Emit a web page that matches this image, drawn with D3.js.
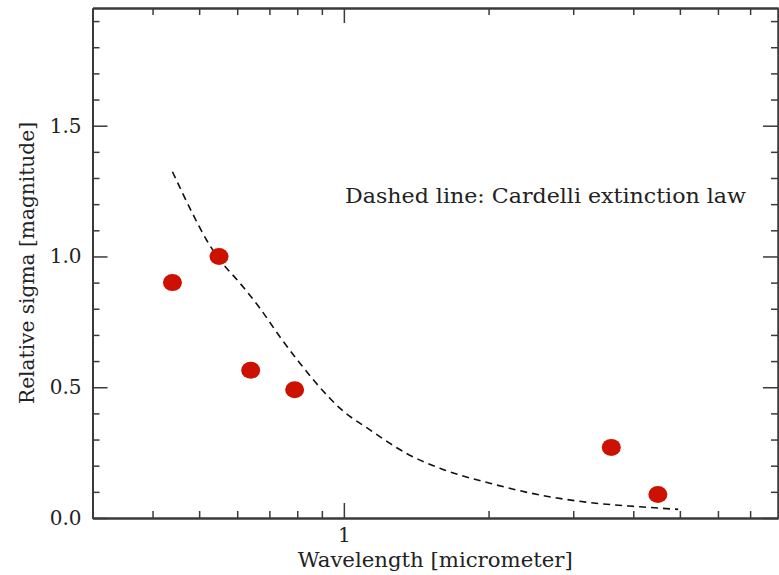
<!DOCTYPE html>
<html>
<head>
<meta charset="utf-8">
<script src="https://d3js.org/d3.v7.min.js"></script>
<style>
    body { margin: 0; background: white; }
    text { font-family: "DejaVu Serif", serif; fill: #222; }
</style>
</head>
<body>
<script>
    // measured points (band wavelength in micrometer, relative sigma)
    let wavelengths = [0.44, 0.55, 0.64, 0.79, 3.6, 4.5];
    let sigmas = [0.90, 1.00, 0.565, 0.49, 0.27, 0.09];

    // Cardelli curve
    let cardelliLambda = [0.44, 0.486, 0.518, 0.552, 0.608, 0.669, 0.736, 0.81, 0.935, 0.981, 1.133, 1.35, 1.584, 2.012, 2.557, 3.249, 4.128, 4.96];
    let cardelliSigma = [1.324, 1.159, 1.063, 0.987, 0.898, 0.802, 0.693, 0.592, 0.458, 0.42, 0.337, 0.247, 0.19, 0.133, 0.088, 0.059, 0.043, 0.033];

    let xMajor = [1];
    let xMinor = [0.4, 0.5, 0.6, 0.7, 0.8, 0.9, 2, 3, 4, 5, 6, 7];
    let yMajor = [0, 0.5, 1.0, 1.5];
    let yMinor = [0.1, 0.2, 0.3, 0.4, 0.6, 0.7, 0.8, 0.9, 1.1, 1.2, 1.3, 1.4, 1.6, 1.7, 1.8, 1.9];

    const W = 779, H = 575;
    const plotL = 92.5, plotR = 778, plotT = 8, plotB = 518;

    let svg = d3.select("body").append("svg")
        .attr("width", W)
        .attr("height", H);

    let x = d3.scaleLog().domain([0.3, 8]).range([plotL, plotR]);
    let y = d3.scaleLinear().domain([0, 1.95]).range([plotB, plotT]);

    let axisColor = "#3a3a3a";

    function drawAxis(axis, tx, ty, labels) {
        let g = svg.append("g")
            .attr("transform", "translate(" + tx + "," + ty + ")")
            .call(axis);
        g.select(".domain").attr("stroke", axisColor).attr("stroke-width", 2);
        g.selectAll(".tick line").attr("stroke", axisColor).attr("stroke-width", 1.5);
        g.selectAll(".tick text")
            .style("font-family", "DejaVu Serif, serif")
            .style("font-size", "20px")
            .attr("fill", "#222");
        if (!labels) g.selectAll(".tick text").remove();
        return g;
    }

    // bottom
    drawAxis(d3.axisBottom(x).tickValues(xMinor).tickSize(-7).tickSizeOuter(0), 0, plotB, false);
    let bx = drawAxis(d3.axisBottom(x).tickValues(xMajor).tickSize(-15).tickSizeOuter(0).tickFormat(d3.format("d")), 0, plotB, true);
    bx.selectAll(".tick text").attr("y", 10).attr("dy", "0.71em");
    // top
    drawAxis(d3.axisTop(x).tickValues(xMinor).tickSize(-7).tickSizeOuter(0), 0, plotT, false);
    drawAxis(d3.axisTop(x).tickValues(xMajor).tickSize(-15).tickSizeOuter(0), 0, plotT, false);
    // left
    drawAxis(d3.axisLeft(y).tickValues(yMinor).tickSize(-7).tickSizeOuter(0), plotL, 0, false);
    let ly = drawAxis(d3.axisLeft(y).tickValues(yMajor).tickSize(-15).tickSizeOuter(0).tickFormat(d3.format(".1f")), plotL, 0, true);
    ly.selectAll(".tick text").attr("x", -11);
    // right
    drawAxis(d3.axisRight(y).tickValues(yMinor).tickSize(-7).tickSizeOuter(0), plotR, 0, false);
    drawAxis(d3.axisRight(y).tickValues(yMajor).tickSize(-15).tickSizeOuter(0), plotR, 0, false);

    // dashed Cardelli line
    let curve = cardelliLambda.map((l, i) => [l, cardelliSigma[i]]);
    let line = d3.line()
        .x(d => x(d[0]))
        .y(d => y(d[1]))
        .curve(d3.curveMonotoneX);

    svg.append("path")
        .datum(curve)
        .attr("d", line)
        .attr("fill", "none")
        .attr("stroke", "#111")
        .attr("stroke-width", 1.6)
        .attr("stroke-dasharray", "7,5");

    // points
    svg.selectAll(".pt")
        .data(wavelengths)
        .enter()
        .append("ellipse")
        .attr("class", "pt")
        .attr("cx", d => x(d))
        .attr("cy", (d, i) => y(sigmas[i]))
        .attr("rx", 9.5)
        .attr("ry", 8.5)
        .attr("fill", "#cc1100");

    // labels
    svg.append("text")
        .attr("x", 345)
        .attr("y", 203)
        .attr("textLength", 401)
        .attr("lengthAdjust", "spacingAndGlyphs")
        .style("font-size", "21px")
        .text("Dashed line: Cardelli extinction law");

    svg.append("text")
        .attr("x", (plotL + plotR) / 2)
        .attr("y", 567)
        .attr("text-anchor", "middle")
        .attr("textLength", 275)
        .attr("lengthAdjust", "spacingAndGlyphs")
        .style("font-size", "20px")
        .text("Wavelength [micrometer]");

    svg.append("text")
        .attr("transform", "translate(34," + (plotT + plotB) / 2 + ") rotate(-90)")
        .attr("text-anchor", "middle")
        .attr("textLength", 282)
        .attr("lengthAdjust", "spacingAndGlyphs")
        .style("font-size", "21px")
        .text("Relative sigma [magnitude]");
</script>
</body>
</html>
